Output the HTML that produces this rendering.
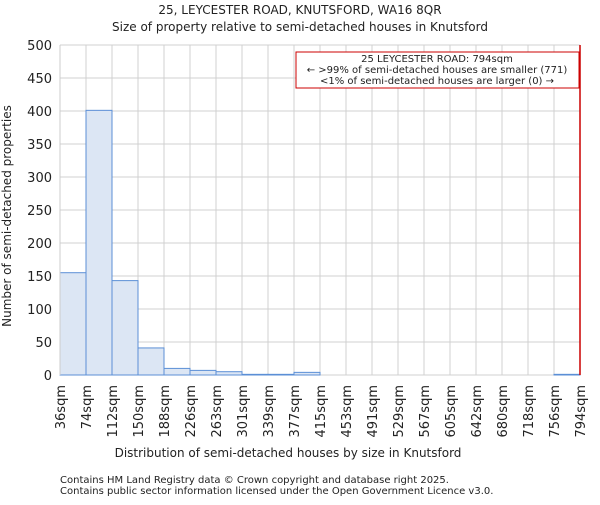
<!DOCTYPE html>
<html><head><meta charset="utf-8"><style>
body{margin:0;background:#fff;font-family:"Liberation Sans","DejaVu Sans",sans-serif;}
svg text{font-family:"DejaVu Sans","Liberation Sans",sans-serif;fill:#222;}
</style></head><body>
<svg id="c" width="600" height="500" xmlns="http://www.w3.org/2000/svg">
<text x="300" y="14" font-size="12" text-anchor="middle">25, LEYCESTER ROAD, KNUTSFORD, WA16 8QR</text>
<text x="300" y="31" font-size="12" text-anchor="middle">Size of property relative to semi-detached houses in Knutsford</text>
<g id="grid"></g><g id="bars"></g><g id="axes"></g>
<text x="288" y="457" font-size="12" text-anchor="middle">Distribution of semi-detached houses by size in Knutsford</text>
<text transform="translate(11,216) rotate(-90)" font-size="12" text-anchor="middle">Number of semi-detached properties</text>
<text x="60" y="483" font-size="10" fill="#555">Contains HM Land Registry data © Crown copyright and database right 2025.</text>
<text x="60" y="494" font-size="10" fill="#555">Contains public sector information licensed under the Open Government Licence v3.0.</text>
<g>
<rect x="296" y="52" width="283" height="36" fill="#fff" stroke="#c00" stroke-width="1"/>
<text x="437" y="62" font-size="10" text-anchor="middle" fill="#000">25 LEYCESTER ROAD: 794sqm</text>
<text x="437" y="73" font-size="10" text-anchor="middle" fill="#000">← &gt;99% of semi-detached houses are smaller (771)</text>
<text x="437" y="84" font-size="10" text-anchor="middle" fill="#000">&lt;1% of semi-detached houses are larger (0) →</text>
</g>
</svg>
<script>
const binLabels=["36sqm","74sqm","112sqm","150sqm","188sqm","226sqm","263sqm","301sqm","339sqm","377sqm","415sqm","453sqm","491sqm","529sqm","567sqm","605sqm","642sqm","680sqm","718sqm","756sqm","794sqm"];
const counts=[155,401,143,41,10,7,5,1,1,4,0,0,0,0,0,0,0,0,0,1];
const yTicks=[0,50,100,150,200,250,300,350,400,450,500];
const markerIndex=20;
const NS="http://www.w3.org/2000/svg";
const L=60,R=580,T=45,B=375,yMax=500;
const n=counts.length,bw=(R-L)/n;
const xs=i=>L+i*bw, ys=v=>B-(B-T)*v/yMax;
function mk(tag,attrs,parent){const e=document.createElementNS(NS,tag);for(const k in attrs)e.setAttribute(k,attrs[k]);document.getElementById(parent).appendChild(e);return e;}
yTicks.forEach(v=>{
 const l=mk('line',{x1:L,x2:R,y1:ys(v),y2:ys(v),stroke:'#d0d0d0','stroke-width':1},'grid');
 
 
 const t=mk('text',{x:L-8,y:ys(v)+5,'font-size':13,'text-anchor':'end'},'axes');t.textContent=v;
 
 
});
binLabels.forEach((s,i)=>{
 const l=mk('line',{x1:xs(i),x2:xs(i),y1:T,y2:B,stroke:'#d0d0d0','stroke-width':1},'grid');
 
 
 const t=mk('text',{transform:`translate(${xs(i)+5},${B+10}) rotate(-90)`,'font-size':13,'text-anchor':'end'},'axes');t.textContent=s;
 
 
});
counts.forEach((v,i)=>{
 if(v<=0)return;
 const r=mk('rect',{x:xs(i),y:ys(v),width:bw,height:B-ys(v),fill:'#dce6f4',stroke:'#5b8fd6','stroke-width':1},'bars');
 
 
});
const m=mk('line',{x1:xs(markerIndex),x2:xs(markerIndex),y1:T,y2:B,stroke:'#c00','stroke-width':1.5},'axes');


const ax=mk('line',{x1:L,x2:L,y1:T,y2:B,stroke:'#ccc'},'axes');


</script>
</body></html>
